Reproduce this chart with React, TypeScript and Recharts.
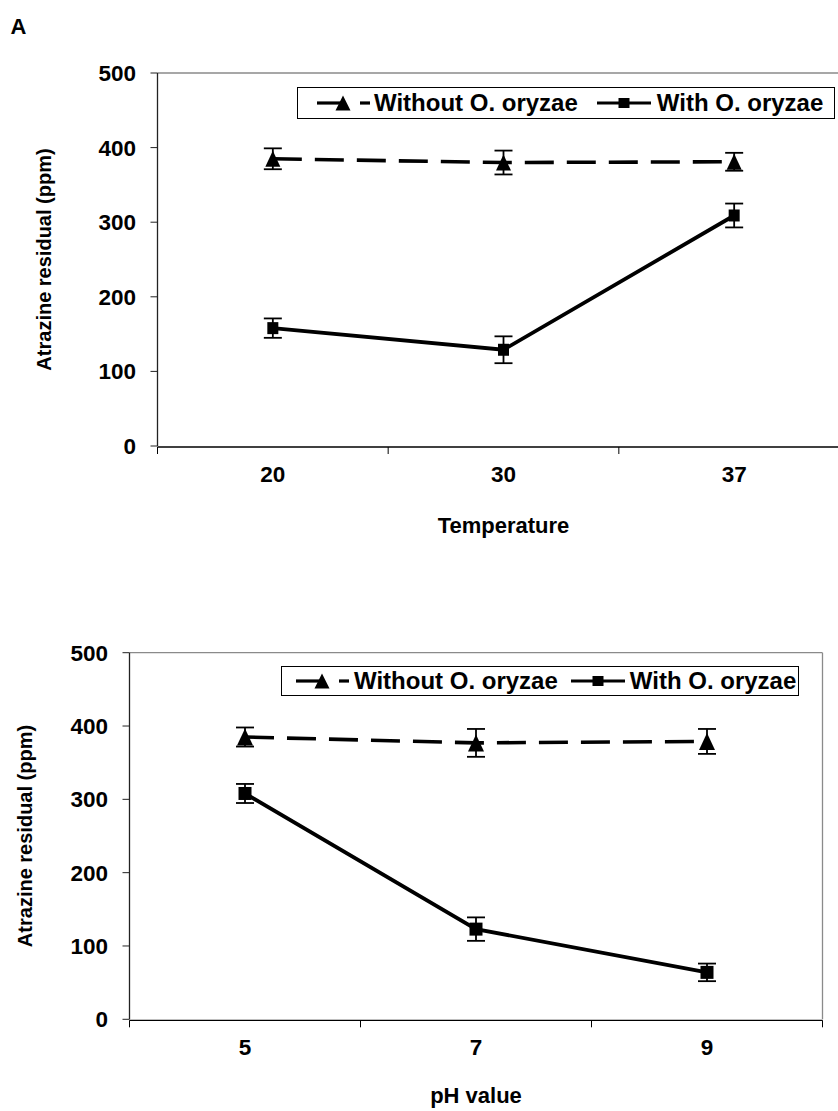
import React from 'react';
import { LineChart, Line, XAxis, YAxis, ErrorBar, Label } from 'recharts';

const FONT = '"Liberation Sans", Arial, Helvetica, sans-serif';

const seriesNames = ['Without O. oryzae', 'With O. oryzae'];
const yTicks = [0, 100, 200, 300, 400, 500];
const frameTicks = [0, 1, 2, 3];

const tempCategories = ['20', '30', '37'];
const tempWithout = [385, 380, 381];
const tempWithoutErr = [14, 16, 12];
const tempWith = [158, 129, 309];
const tempWithErr = [13, 18, 16];

const phCategories = ['5', '7', '9'];
const phWithout = [385, 377, 379];
const phWithoutErr = [13, 19, 17];
const phWith = [308, 123, 64];
const phWithErr = [13, 16, 12];

function buildRows(cats: string[], wo: number[], woErr: number[], w: number[], wErr: number[]) {
  return cats.map((c, i) => ({
    cat: c,
    index: i,
    without: wo[i],
    withoutErr: woErr[i],
    with: w[i],
    withErr: wErr[i],
  }));
}

const tempRows = buildRows(tempCategories, tempWithout, tempWithoutErr, tempWith, tempWithErr);
const phRows = buildRows(phCategories, phWithout, phWithoutErr, phWith, phWithErr);

const makeTriangle = (w: number, h: number) => (props: any) => {
  const { cx, cy, index } = props;
  if (cx == null || cy == null) return <g key={`te${index}`} />;
  return (
    <path
      key={`t${index}`}
      d={`M${cx},${cy - h / 2} L${cx + w / 2},${cy + h / 2} L${cx - w / 2},${cy + h / 2} Z`}
      fill="#000"
      stroke="none"
    />
  );
};

const makeSquare = (w: number, h: number) => (props: any) => {
  const { cx, cy, index } = props;
  if (cx == null || cy == null) return <g key={`se${index}`} />;
  return <rect key={`s${index}`} x={cx - w / 2} y={cy - h / 2} width={w} height={h} fill="#000" stroke="none" />;
};

const tickStyle = { fontFamily: FONT, fontWeight: 700, fontSize: 22.5, fill: '#000' };

type PanelProps = {
  rows: any[];
  width: number;
  height: number;
  margin: { top: number; right: number; bottom: number; left: number };
  xTitle: string;
  yTitleGap: number;
  xTitleDy: number;
  tri: [number, number];
  sq: [number, number];
};

function Panel({ rows, width, height, margin, xTitle, yTitleGap, xTitleDy, tri, sq }: PanelProps) {
  return (
    <LineChart width={width} height={height} data={rows} margin={margin}>
      <XAxis
        xAxisId="frame"
        type="number"
        dataKey="index"
        domain={[0, 3]}
        ticks={frameTicks}
        interval={0}
        allowDataOverflow
        height={1}
        axisLine={{ stroke: '#000', strokeWidth: 1.3 }}
        tickLine={{ stroke: '#000', strokeWidth: 1 }}
        tickSize={7}
        tickFormatter={() => ''}
      />
      <XAxis
        xAxisId="top"
        orientation="top"
        type="number"
        dataKey="index"
        domain={[0, 3]}
        allowDataOverflow
        height={1}
        axisLine={{ stroke: '#8a8a8a', strokeWidth: 1.3 }}
        tick={false}
        tickLine={false}
      />
      <XAxis
        xAxisId="cat"
        dataKey="cat"
        type="category"
        scale="band"
        height={1}
        axisLine={false}
        tickLine={false}
        tickSize={0}
        tickMargin={20}
        interval={0}
        tick={tickStyle}
      >
        <Label
          content={(p: any) => {
            const vb = p.viewBox || {};
            return (
              <text
                x={vb.x + vb.width / 2}
                y={vb.y + xTitleDy}
                textAnchor="middle"
                style={{ fontFamily: FONT, fontWeight: 700, fontSize: 22, fill: '#000' }}
              >
                {xTitle}
              </text>
            );
          }}
        />
      </XAxis>
      <YAxis
        yAxisId="left"
        type="number"
        domain={[0, 500]}
        ticks={yTicks}
        interval={0}
        width={70}
        axisLine={{ stroke: '#222', strokeWidth: 1.3 }}
        tickLine={{ stroke: '#222', strokeWidth: 1 }}
        tickSize={7}
        tickMargin={14.5}
        tick={tickStyle}
      >
        <Label
          content={(p: any) => {
            const vb = p.viewBox || {};
            const bx = vb.x + vb.width - yTitleGap;
            const by = vb.y + vb.height / 2;
            return (
              <text
                x={bx}
                y={by}
                textAnchor="middle"
                transform={`rotate(-90 ${bx} ${by})`}
                style={{ fontFamily: FONT, fontWeight: 700, fontSize: 20, fill: '#000' }}
              >
                Atrazine residual (ppm)
              </text>
            );
          }}
        />
      </YAxis>
      <YAxis
        yAxisId="right"
        orientation="right"
        type="number"
        dataKey="without"
        domain={[0, 500]}
        allowDataOverflow
        width={1}
        axisLine={{ stroke: '#8a8a8a', strokeWidth: 1.3 }}
        tick={false}
        tickLine={false}
      />
      <Line
        xAxisId="cat"
        yAxisId="left"
        dataKey="without"
        name={seriesNames[0]}
        stroke="#000"
        strokeWidth={3.6}
        strokeDasharray="29 13"
        dot={makeTriangle(tri[0], tri[1])}
        activeDot={false}
        isAnimationActive={false}
      >
        <ErrorBar dataKey="withoutErr" width={9} strokeWidth={1.8} stroke="#000" direction="y" />
      </Line>
      <Line
        xAxisId="cat"
        yAxisId="left"
        dataKey="with"
        name={seriesNames[1]}
        stroke="#000"
        strokeWidth={3.8}
        dot={makeSquare(sq[0], sq[1])}
        activeDot={false}
        isAnimationActive={false}
      >
        <ErrorBar dataKey="withErr" width={9} strokeWidth={1.8} stroke="#000" direction="y" />
      </Line>
    </LineChart>
  );
}

type LegendProps = {
  left: number;
  top: number;
  width: number;
  height: number;
  pad: number;
  g1: number;
  g2: number;
  g3: number;
};

function LegendBox({ left, top, width, height, pad, g1, g2, g3 }: LegendProps) {
  const iconH = 20;
  return (
    <div
      style={{
        position: 'absolute',
        left,
        top,
        width,
        height,
        boxSizing: 'border-box',
        border: '1.3px solid #000',
        background: '#fff',
        display: 'flex',
        alignItems: 'center',
        paddingLeft: pad,
        fontFamily: FONT,
        fontWeight: 700,
        fontSize: 24,
        lineHeight: 1,
        color: '#000',
        whiteSpace: 'nowrap',
      }}
    >
      <svg width={53} height={iconH} style={{ display: 'block', flex: 'none' }}>
        <line x1={0} y1={10} x2={27} y2={10} stroke="#000" strokeWidth={3.2} />
        <line x1={43} y1={10} x2={53} y2={10} stroke="#000" strokeWidth={3.2} />
        <path d="M26,2.5 L33.5,17.5 L18.5,17.5 Z" fill="#000" />
      </svg>
      <span style={{ marginLeft: g1 }}>{seriesNames[0]}</span>
      <svg width={54} height={iconH} style={{ display: 'block', flex: 'none', marginLeft: g2 }}>
        <line x1={0} y1={10} x2={54} y2={10} stroke="#000" strokeWidth={3.2} />
        <rect x={21.5} y={5} width={11} height={10} fill="#000" />
      </svg>
      <span style={{ marginLeft: g3 }}>{seriesNames[1]}</span>
    </div>
  );
}

export default function App() {
  return (
    <div
      style={{
        position: 'absolute',
        left: 0,
        top: 0,
        width: 838,
        height: 1111,
        overflow: 'hidden',
        background: '#fff',
      }}
    >
      <svg width={40} height={40} style={{ position: 'absolute', left: 0, top: 0 }}>
        <text x={10.5} y={34} style={{ fontFamily: FONT, fontWeight: 700, fontSize: 22, fill: '#000' }}>
          A
        </text>
      </svg>
      <div style={{ position: 'absolute', left: 0, top: 0 }}>
        <Panel
          rows={tempRows}
          width={880}
          height={560}
          margin={{ top: 72, right: 29.5, bottom: 112, left: 87.5 }}
          xTitle="Temperature"
          yTitleGap={107}
          xTitleDy={87}
          tri={[15, 16]}
          sq={[11, 12]}
        />
      </div>
      <div style={{ position: 'absolute', left: 0, top: 600 }}>
        <Panel
          rows={phRows}
          width={838}
          height={511}
          margin={{ top: 51.7, right: 14.5, bottom: 89.7, left: 59.5 }}
          xTitle="pH value"
          yTitleGap={98}
          xTitleDy={84}
          tri={[16, 17]}
          sq={[13, 13]}
        />
      </div>
      <LegendBox left={297} top={87} width={538} height={32} pad={19} g1={4} g2={19} g3={6} />
      <LegendBox left={281} top={666} width={518} height={30} pad={14} g1={5} g2={13} g3={5} />
    </div>
  );
}
